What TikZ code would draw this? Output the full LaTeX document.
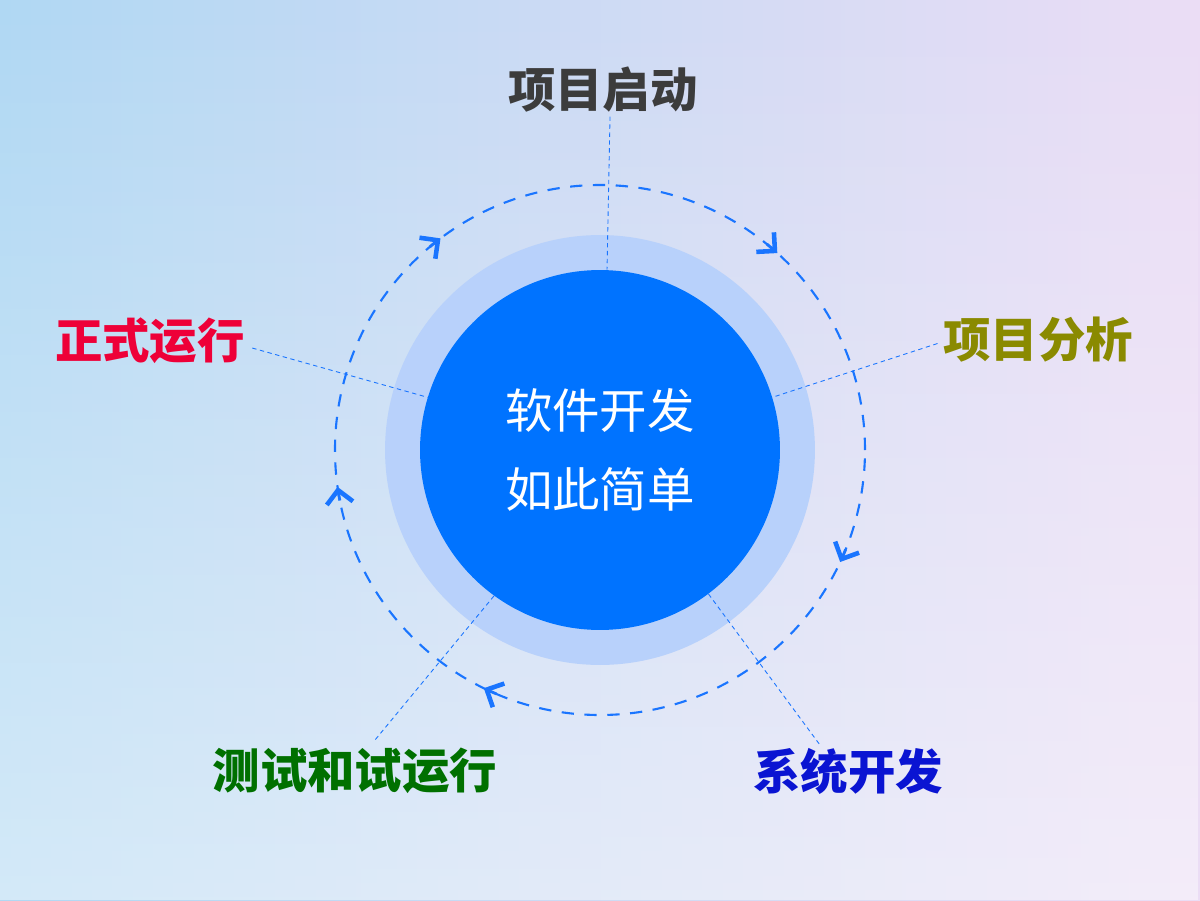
\documentclass[tikz,border=0pt]{standalone}
\usepackage{fontspec}
\usepackage{xcolor}
\usepackage{tikz}
\usetikzlibrary{arrows.meta, fadings}
\newfontfamily\cjk{Noto Sans CJK SC}

\definecolor{ringblue}{HTML}{B8D1FB}
\definecolor{coreblue}{HTML}{0073FF}
\definecolor{orbitblue}{HTML}{1A75FF}
\definecolor{leftsky}{HTML}{B0D8F3}
\definecolor{midsky}{HTML}{DCECF9}
\definecolor{rightlilac}{HTML}{EBDDF5}
\definecolor{startgray}{HTML}{3C3C3C}
\definecolor{analyseolive}{HTML}{8A8A00}
\definecolor{developblue}{HTML}{0A14D2}
\definecolor{testgreen}{HTML}{007000}
\definecolor{runred}{HTML}{EE0038}

\tikzset{
  stage/.style={font=\cjk\bfseries\fontsize{27}{30}\selectfont, inner sep=0pt},
  leader/.style={orbitblue, line width=0.5pt, dash pattern=on 2.5pt off 2pt},
  orbit/.style={orbitblue, line width=1.2pt, dash pattern=on 7pt off 6pt},
  flowtip/.style={orbitblue, line width=1.6pt, -{Straight Barb[length=7.5pt, width=15pt, line width=2.6pt]}}
}

\begin{document}
\begin{tikzpicture}[x=0.02cm, y=0.02cm]
      \useasboundingbox (-600,-450) rectangle (600,450);
      \shade[left color=leftsky, middle color=midsky, right color=rightlilac] (-600,-450) rectangle (600,450);
      \fill[white, path fading=north, opacity=0.45] (-600,-450) rectangle (600,450);

      \node (ring) [circle, fill=ringblue, minimum size=8.6cm, inner sep=0pt] at (0,0) {};
      \node (core) [circle, fill=coreblue, minimum size=7.2cm, inner sep=0pt, align=center, text=white,
        font=\cjk\fontsize{27}{45}\selectfont] at (0,0) {软件开发\\如此简单};

      \draw [orbit] (0,0) circle[radius=265];
      \foreach \a in {48,-25,-116,188,127}
        \draw [flowtip] (\a+3:265) arc[start angle=\a+3, end angle=\a, radius=265];

      \node (start) [stage, text=startgray] at (3,360) {项目启动};
      \node (analyse) [stage, text=analyseolive] at (438,110) {项目分析};
      \node (develop) [stage, text=developblue] at (248,-321) {系统开发};
      \node (test) [stage, text=testgreen] at (-245,-321) {测试和试运行};
      \node (run) [stage, text=runred] at (-450,109) {正式运行};

      \coordinate (developend) at (220,-295);
      \coordinate (testend) at (-225,-290);

      \draw [leader] ([xshift=4pt, yshift=-2pt]start.south) -- ([xshift=4pt]core.north);
      \draw [leader] ([xshift=-3pt, yshift=-2pt]analyse.west) -- (core.17);
      \draw [leader] (core.-53) -- (developend);
      \draw [leader] (core.-126) -- (testend);
      \draw [leader] ([xshift=4pt, yshift=-4pt]run.east) -- (core.163);
    \end{tikzpicture}
\end{document}
